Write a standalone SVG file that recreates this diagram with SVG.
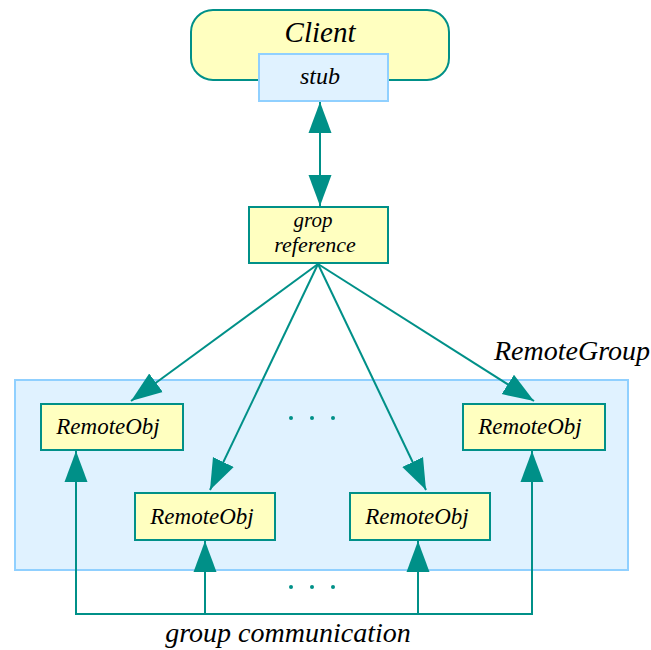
<svg xmlns="http://www.w3.org/2000/svg" width="651" height="650" viewBox="0 0 651 650">
<style>
.t{font-family:"Liberation Serif","DejaVu Serif",serif;font-style:italic;fill:#000;text-anchor:middle}
.obj{fill:#ffffc0;stroke:#009088;stroke-width:2}
.blue{fill:#e0f2ff;stroke:#90d0ff;stroke-width:2}
.ln{stroke:#009088;stroke-width:2;fill:none}
.dot{fill:#009088}
.ro{font-size:23px}
</style>
<defs>
<marker id="ah" markerUnits="userSpaceOnUse" markerWidth="32" markerHeight="24" viewBox="0 0 32 24" refX="31" refY="12" orient="auto-start-reverse">
<path d="M0,0.5 L31,12 L0,23.5 z" fill="#009088"/>
</marker>
</defs>
<g id="remotegroup">
<rect class="blue" x="15" y="380" width="613" height="190"/>
<text class="t" x="572" y="360" font-size="28">RemoteGroup</text>
</g>
<g id="client">
<rect class="obj" x="191" y="10" width="258" height="70" rx="22"/>
<text class="t" x="320" y="42" font-size="29">Client</text>
</g>
<g id="stub">
<rect class="blue" x="259" y="54" width="129" height="47"/>
<text class="t" x="320" y="84" font-size="24">stub</text>
</g>
<g id="groupref">
<rect class="obj" x="249" y="207" width="139" height="56"/>
<text class="t" x="313" y="227" font-size="21">grop</text>
<text class="t" x="315" y="252" font-size="22">reference</text>
</g>
<g id="obj1">
<rect class="obj" x="41" y="404" width="142" height="46"/>
<text class="t ro" x="108" y="434">RemoteObj</text>
</g>
<g id="obj2">
<rect class="obj" x="135" y="493" width="140" height="47"/>
<text class="t ro" x="202" y="524">RemoteObj</text>
</g>
<g id="obj3">
<rect class="obj" x="350" y="493" width="140" height="47"/>
<text class="t ro" x="417" y="524">RemoteObj</text>
</g>
<g id="obj4">
<rect class="obj" x="463" y="404" width="142" height="46"/>
<text class="t ro" x="530" y="434">RemoteObj</text>
</g>
<g id="dots">
<circle class="dot" cx="291" cy="418" r="2"/>
<circle class="dot" cx="312" cy="418" r="2"/>
<circle class="dot" cx="333" cy="418" r="2"/>
<circle class="dot" cx="291" cy="587" r="2"/>
<circle class="dot" cx="312" cy="587" r="2"/>
<circle class="dot" cx="333" cy="587" r="2"/>
</g>
<g id="connectors">
<line class="ln" x1="320" y1="102" x2="320" y2="206" marker-start="url(#ah)" marker-end="url(#ah)"/>
<line class="ln" x1="318" y1="264" x2="131" y2="401" marker-end="url(#ah)"/>
<line class="ln" x1="318" y1="264" x2="210" y2="490" marker-end="url(#ah)"/>
<line class="ln" x1="318" y1="264" x2="426" y2="490" marker-end="url(#ah)"/>
<line class="ln" x1="318" y1="264" x2="534" y2="401" marker-end="url(#ah)"/>
<polyline class="ln" points="76,451 76,614 532,614 532,451"/>
<line class="ln" x1="76" y1="480" x2="76" y2="451" marker-end="url(#ah)"/>
<line class="ln" x1="532" y1="480" x2="532" y2="451" marker-end="url(#ah)"/>
<line class="ln" x1="205" y1="614" x2="205" y2="541" marker-end="url(#ah)"/>
<line class="ln" x1="418" y1="614" x2="418" y2="541" marker-end="url(#ah)"/>
</g>
<text id="gclabel" class="t" x="288" y="642" font-size="28">group communication</text>
</svg>
